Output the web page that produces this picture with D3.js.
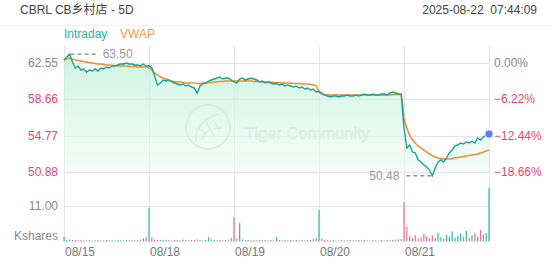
<!DOCTYPE html>
<html>
<head>
<meta charset="utf-8">
<script src="https://cdnjs.cloudflare.com/ajax/libs/d3/7.8.5/d3.min.js"></script>
<style>
  body { margin: 0; background: #fff; }
  svg text { font-family: "Liberation Sans", Arial, "Noto Sans CJK SC", sans-serif; }
</style>
</head>
<body>
<div id="chart"></div>
<script>
// 5 trading days, 30 samples a day (last day has the closing sample too)
var days = ['08/15', '08/18', '08/19', '08/20', '08/21'];

var price1 = [62.87, 63.19, 63.50, 62.66, 62.01, 62.23, 61.80, 61.91, 61.59, 61.80, 61.69, 61.91, 61.69, 62.01, 61.91,
  62.12, 62.01, 62.23, 62.23, 62.34, 62.44, 62.44, 62.55, 62.44, 62.44, 62.34, 62.34, 62.23, 62.44, 62.23];
var price2 = [62.25, 62.01, 61.16, 60.20, 60.41, 60.73, 60.62, 60.73, 60.52, 60.41, 60.30, 60.20, 60.30, 60.09, 60.20,
  59.98, 59.87, 59.34, 60.09, 60.30, 60.41, 60.62, 60.73, 60.84, 60.94, 61.05, 60.84, 60.94, 60.94, 60.73];
var price3 = [60.52, 60.41, 60.84, 60.94, 60.73, 60.84, 60.94, 60.84, 60.73, 60.52, 60.62, 60.41, 60.52, 60.41, 60.30,
  60.36, 60.20, 60.30, 60.09, 60.20, 60.09, 59.98, 60.09, 59.87, 59.98, 59.77, 59.87, 59.66, 59.77, 59.45];
var price4 = [59.50, 59.34, 59.12, 59.02, 58.91, 59.02, 59.02, 58.91, 59.02, 59.02, 59.12, 59.02, 59.02, 59.12, 59.02,
  59.12, 59.23, 59.12, 59.12, 59.23, 59.12, 59.12, 59.23, 59.23, 59.12, 59.34, 59.45, 59.34, 59.23, 59.23];
var price5 = [55.59, 53.45, 53.77, 53.02, 52.92, 52.17, 51.95, 51.63, 51.42, 51.09, 50.48, 51.31, 51.95, 52.17, 51.95,
  52.38, 52.92, 53.24, 53.67, 53.77, 53.98, 53.88, 54.09, 53.98, 54.20, 53.98, 54.52, 54.31, 54.63, 54.84, 54.95];

var vwap1 = [62.87, 62.98, 63.09, 62.98, 62.87, 62.82, 62.76, 62.71, 62.66, 62.60, 62.55, 62.50, 62.44, 62.44, 62.39,
  62.34, 62.34, 62.28, 62.28, 62.23, 62.23, 62.23, 62.23, 62.18, 62.18, 62.18, 62.12, 62.12, 62.12, 62.12];
var vwap2 = [62.01, 61.80, 61.48, 61.27, 61.05, 60.94, 60.84, 60.73, 60.62, 60.57, 60.52, 60.52, 60.46, 60.41, 60.41,
  60.41, 60.41, 60.36, 60.36, 60.41, 60.41, 60.46, 60.46, 60.52, 60.52, 60.57, 60.57, 60.62, 60.62, 60.62];
var vwap3 = [60.62, 60.62, 60.62, 60.62, 60.62, 60.62, 60.62, 60.57, 60.57, 60.57, 60.52, 60.52, 60.52, 60.52, 60.46,
  60.46, 60.46, 60.41, 60.41, 60.41, 60.41, 60.36, 60.36, 60.36, 60.30, 60.30, 60.30, 60.25, 60.20, 60.09];
var vwap4 = [59.45, 59.23, 59.12, 59.12, 59.12, 59.12, 59.12, 59.12, 59.12, 59.12, 59.12, 59.12, 59.12, 59.12, 59.12,
  59.12, 59.12, 59.12, 59.12, 59.12, 59.12, 59.12, 59.12, 59.12, 59.12, 59.12, 59.18, 59.18, 59.18, 59.18];
var vwap5 = [56.66, 55.59, 54.84, 54.31, 53.98, 53.66, 53.45, 53.24, 53.02, 52.81, 52.65, 52.49, 52.38, 52.33, 52.27,
  52.27, 52.27, 52.33, 52.38, 52.43, 52.49, 52.54, 52.60, 52.65, 52.70, 52.75, 52.81, 52.91, 53.02, 53.13, 53.24];

// volume in thousand shares
var vol1 = [1.3, 0.4, 0.5, 0.3, 0.3, 0.2, 0.3, 0.2, 0.2, 0.3, 0.2, 0.2, 0.3, 0.2, 0.2,
  0.3, 0.2, 0.2, 0.2, 0.3, 0.2, 0.2, 0.3, 0.2, 0.3, 0.2, 0.3, 0.4, 0.8, 1.4];
var vol2 = [10.5, 1.2, 0.5, 0.4, 0.3, 0.3, 0.4, 0.3, 0.2, 0.3, 0.3, 0.2, 0.4, 0.3, 0.2,
  0.3, 0.3, 0.5, 0.3, 0.2, 0.3, 1.2, 0.5, 0.3, 0.2, 0.3, 0.2, 0.3, 0.4, 1.0];
var vol3 = [7.4, 0.8, 5.6, 0.5, 0.3, 0.3, 0.2, 0.3, 0.2, 0.3, 0.2, 0.3, 0.2, 0.3, 0.2,
  1.2, 0.3, 0.2, 0.3, 0.2, 0.3, 0.2, 0.3, 0.2, 0.3, 0.2, 0.3, 0.4, 0.6, 1.0];
var vol4 = [9.7, 0.8, 0.4, 0.3, 0.2, 0.3, 0.2, 0.2, 0.3, 0.2, 0.2, 0.3, 0.2, 0.2, 0.3,
  0.2, 0.3, 0.2, 0.2, 0.3, 0.2, 0.2, 0.3, 0.2, 0.3, 0.2, 0.3, 0.4, 0.5, 0.6];
var vol5 = [12.2, 4.5, 1.5, 1.0, 1.8, 0.8, 1.2, 2.2, 1.5, 0.9, 1.8, 1.0, 2.6, 1.2, 0.8,
  2.0, 1.4, 3.0, 1.0, 1.6, 2.4, 1.2, 3.2, 1.0, 1.8, 2.6, 1.4, 3.4, 2.0, 2.5, 16.6];

var priceTicks = [62.55, 58.66, 54.77, 50.88];
var prevClose = 62.55;
var volTicks = [11.00];
var perDay = 30;

var width = 552;
var height = 265;
var left = 64;
var right = 489;

// flatten
var prices = [].concat(price1, price2, price3, price4, price5);
var vwaps = [].concat(vwap1, vwap2, vwap3, vwap4, vwap5);
var vols = [].concat(vol1, vol2, vol3, vol4, vol5);
var data = prices.map(function(p, i) {
  return { t: i, price: p, vwap: vwaps[i], vol: vols[i], prev: i > 0 ? prices[i - 1] : p - 0.01 };
});

var svg = d3.select('#chart').append('svg')
  .attr('width', width)
  .attr('height', height);

var xScale = d3.scaleLinear()
  .domain([0, perDay * days.length])
  .range([left, right]);

var yScale = d3.scaleLinear()
  .domain([d3.min(priceTicks), d3.max(priceTicks)])
  .range([172, 63]);

var vScale = d3.scaleLinear()
  .domain([0, volTicks[0]])
  .range([241, 206]);

var teal = '#13a593';
var pink = '#e8486f';
var orange = '#f38b2c';
var gridColor = '#e4e4e4';

// header
svg.append('text')
  .attr('x', 20)
  .attr('y', 14)
  .style('font-size', '12px')
  .style('fill', '#444')
  .text('CBRL CB乡村店 - 5D');

svg.append('text')
  .attr('x', 537)
  .attr('y', 14)
  .attr('text-anchor', 'end')
  .style('font-size', '12px')
  .style('fill', '#444')
  .style('white-space', 'pre')
  .text('2025-08-22  07:44:09');

svg.append('line')
  .attr('x1', 0).attr('x2', width)
  .attr('y1', 25.5).attr('y2', 25.5)
  .style('stroke', '#f0f0f0');

svg.append('text')
  .attr('x', 64)
  .attr('y', 38)
  .style('font-size', '12px')
  .style('fill', '#2bb3a3')
  .text('Intraday');

svg.append('text')
  .attr('x', 120)
  .attr('y', 38)
  .style('font-size', '12px')
  .style('fill', '#f39a4e')
  .text('VWAP');

// grid
var grid = svg.append('g');
grid.selectAll('.vgrid')
  .data(d3.range(days.length + 1))
  .enter()
  .append('line')
  .attr('x1', function(d) { return Math.round(xScale(d * perDay)) + 0.5; })
  .attr('x2', function(d) { return Math.round(xScale(d * perDay)) + 0.5; })
  .attr('y1', 46)
  .attr('y2', 243)
  .style('stroke', gridColor);

grid.selectAll('.hgrid')
  .data(priceTicks)
  .enter()
  .append('line')
  .attr('x1', left)
  .attr('x2', right)
  .attr('y1', function(d) { return Math.round(yScale(d)) + 0.5; })
  .attr('y2', function(d) { return Math.round(yScale(d)) + 0.5; })
  .style('stroke', gridColor);

grid.selectAll('.vhgrid')
  .data([0].concat(volTicks))
  .enter()
  .append('line')
  .attr('x1', left)
  .attr('x2', right)
  .attr('y1', function(d) { return Math.round(vScale(d)) + 0.5; })
  .attr('y2', function(d) { return Math.round(vScale(d)) + 0.5; })
  .style('stroke', gridColor);

// watermark
var wm = svg.append('g').style('opacity', 0.9);
wm.append('circle')
  .attr('cx', 208).attr('cy', 127).attr('r', 22)
  .style('fill', 'none')
  .style('stroke', '#d2d2d2')
  .style('stroke-width', 2);
wm.append('path')
  .attr('d', 'M196,142 C194,128 204,118 218,114 M202,140 C204,132 212,128 222,128 M206,122 L214,136 M214,120 L220,132 M198,128 L206,134')
  .style('fill', 'none')
  .style('stroke', '#d6d6d6')
  .style('stroke-width', 1.6);
wm.append('text')
  .attr('x', 245)
  .attr('y', 139)
  .style('font-size', '16.5px')
  .style('fill', '#ececec')
  .style('stroke', '#c9c9c9')
  .style('stroke-width', 0.6)
  .text('Tiger Community');

// area under intraday line
var defs = svg.append('defs');
var grad = defs.append('linearGradient')
  .attr('id', 'fillGrad')
  .attr('x1', 0).attr('x2', 0).attr('y1', 0).attr('y2', 1);
grad.append('stop').attr('offset', '0%').style('stop-color', '#c3f2dc').style('stop-opacity', 0.85);
grad.append('stop').attr('offset', '100%').style('stop-color', '#eefbf5').style('stop-opacity', 0.6);

var area = d3.area()
  .x(function(d) { return xScale(d.t); })
  .y0(yScale(d3.min(priceTicks)))
  .y1(function(d) { return yScale(d.price); });

svg.append('path')
  .datum(data)
  .attr('d', area)
  .style('fill', 'url(#fillGrad)');

// volume bars
svg.selectAll('.bar')
  .data(data)
  .enter()
  .append('rect')
  .attr('x', function(d) { return xScale(d.t) - 0.6; })
  .attr('y', function(d) { return vScale(d.vol); })
  .attr('width', 1.2)
  .attr('height', function(d) { return vScale(0) - vScale(d.vol); })
  .style('fill', function(d) {
    if (d.price > d.prev) {
      return '#2fb8a8';
    } else if (d.price < d.prev) {
      return '#ef6d8d';
    }
    return '#a9a9a9';
  });

// lines
var priceLine = d3.line()
  .x(function(d) { return xScale(d.t); })
  .y(function(d) { return yScale(d.price); });

var vwapLine = d3.line()
  .x(function(d) { return xScale(d.t); })
  .y(function(d) { return yScale(d.vwap); })
  .curve(d3.curveMonotoneX);

svg.append('path')
  .datum(data)
  .attr('d', vwapLine)
  .style('fill', 'none')
  .style('stroke', orange)
  .style('stroke-width', 1.5);

svg.append('path')
  .datum(data)
  .attr('d', priceLine)
  .style('fill', 'none')
  .style('stroke', teal)
  .style('stroke-width', 1.4);

// high / low markers
var hi = data.reduce(function(a, b) { return b.price > a.price ? b : a; });
var lo = data.reduce(function(a, b) { return b.price < a.price ? b : a; });

svg.append('line')
  .attr('x1', xScale(hi.t) + 1).attr('x2', xScale(hi.t) + 29)
  .attr('y1', yScale(hi.price)).attr('y2', yScale(hi.price))
  .style('stroke', '#999')
  .style('stroke-width', 1.5)
  .style('stroke-dasharray', '4, 3');
svg.append('text')
  .attr('x', xScale(hi.t) + 33)
  .attr('y', yScale(hi.price) + 4)
  .style('font-size', '12px')
  .style('fill', '#999')
  .text(d3.format('.2f')(hi.price));

svg.append('line')
  .attr('x1', xScale(lo.t) - 1).attr('x2', xScale(lo.t) - 29)
  .attr('y1', yScale(lo.price)).attr('y2', yScale(lo.price))
  .style('stroke', '#999')
  .style('stroke-width', 1.5)
  .style('stroke-dasharray', '4, 3');
svg.append('text')
  .attr('x', xScale(lo.t) - 33)
  .attr('y', yScale(lo.price) + 4)
  .attr('text-anchor', 'end')
  .style('font-size', '12px')
  .style('fill', '#999')
  .text(d3.format('.2f')(lo.price));

// last point
var last = data[data.length - 1];
svg.append('circle')
  .attr('cx', xScale(last.t))
  .attr('cy', yScale(last.price))
  .attr('r', 4)
  .style('fill', '#5a7ef2')
  .style('stroke', '#c9d6fb')
  .style('stroke-width', 1);

// axes labels
function tickColor(v) {
  return v >= prevClose ? '#888' : pink;
}

svg.selectAll('.ylab')
  .data(priceTicks)
  .enter()
  .append('text')
  .attr('x', 58)
  .attr('y', function(d) { return yScale(d) + 4; })
  .attr('text-anchor', 'end')
  .style('font-size', '12px')
  .style('fill', tickColor)
  .text(function(d) { return d3.format('.2f')(d); });

svg.selectAll('.pctlab')
  .data(priceTicks)
  .enter()
  .append('text')
  .attr('x', 494)
  .attr('y', function(d) { return yScale(d) + 4; })
  .style('font-size', '12px')
  .style('fill', tickColor)
  .text(function(d) { return d3.format('.2f')((d / prevClose - 1) * 100) + '%'; });

svg.selectAll('.vlab')
  .data(volTicks)
  .enter()
  .append('text')
  .attr('x', 58)
  .attr('y', function(d) { return vScale(d) + 4; })
  .attr('text-anchor', 'end')
  .style('font-size', '12px')
  .style('fill', '#888')
  .text(function(d) { return d3.format('.2f')(d); });

svg.append('text')
  .attr('x', 58)
  .attr('y', 240)
  .attr('text-anchor', 'end')
  .style('font-size', '12px')
  .style('fill', '#888')
  .text('Kshares');

svg.selectAll('.xlab')
  .data(days)
  .enter()
  .append('text')
  .attr('x', function(d, i) { return xScale(i * perDay) + 1; })
  .attr('y', 256)
  .style('font-size', '12px')
  .style('fill', '#777')
  .text(function(d) { return d; });
</script>
</body>
</html>
